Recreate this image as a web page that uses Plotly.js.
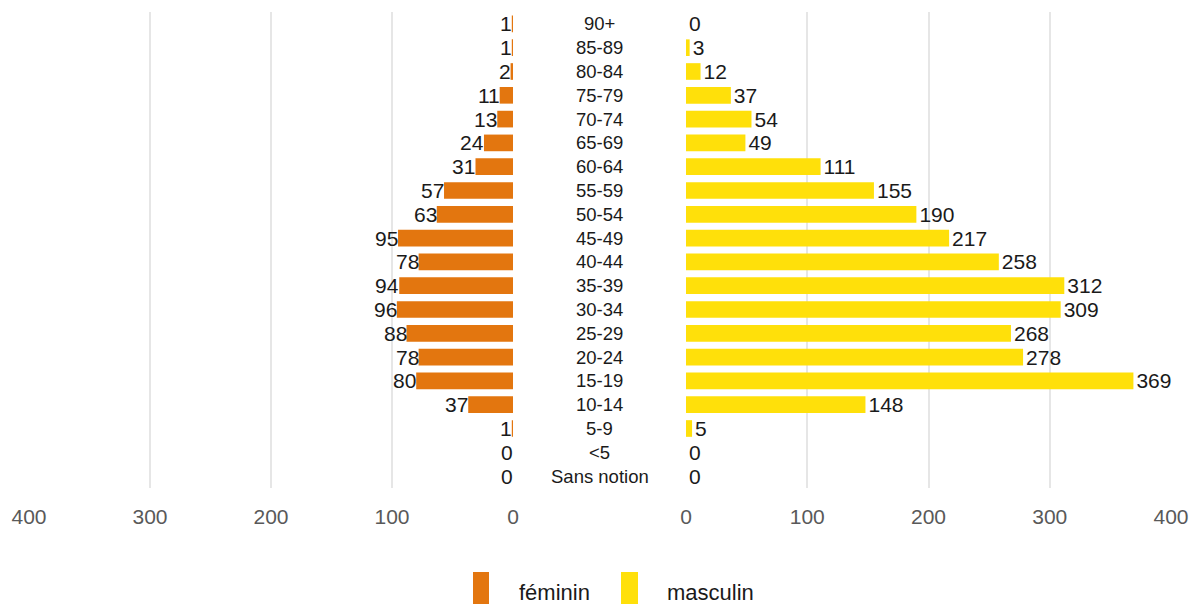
<!DOCTYPE html>
<html>
<head>
<meta charset="utf-8">
<script src="https://cdn.plot.ly/plotly-3.0.1.min.js"></script>
<style>html,body{margin:0;padding:0;background:#fff;}#chart{width:1197px;height:604px;}</style>
</head>
<body>
<div id="chart"></div>
<script>
const categories = ["90+","85-89","80-84","75-79","70-74","65-69","60-64","55-59","50-54","45-49","40-44","35-39","30-34","25-29","20-24","15-19","10-14","5-9","<5","Sans notion"];
const feminin = [1,1,2,11,13,24,31,57,63,95,78,94,96,88,78,80,37,1,0,0];
const masculin = [0,3,12,37,54,49,111,155,190,217,258,312,309,268,278,369,148,5,0,0];
const tickVals = [0,100,200,300,400];
const seriesNames = ["féminin","masculin"];
const colors = ["#E3760F","#FFE00A"];

const W = 1197, H = 604;
const ml = 29, mr = 26, mt = 12, mb = 116;
const pw = W - ml - mr, ph = H - mt - mb;
const px = p => (p - ml) / pw;
const py = p => (H - mb - p) / ph;

const FONT = "Liberation Sans, Arial, sans-serif";
const textFont = {family: FONT, size: 21, color: "#1a1a1a"};

const traces = [
  {type: "bar", orientation: "h", name: seriesNames[0], y: categories, x: feminin,
   xaxis: "x", yaxis: "y", marker: {color: colors[0]},
   hoverinfo: "x+y", showlegend: false},
  {type: "bar", orientation: "h", name: seriesNames[1], y: categories, x: masculin,
   xaxis: "x2", yaxis: "y", marker: {color: colors[1]},
   text: masculin.map(String), textposition: "outside", cliponaxis: false,
   constraintext: "none", outsidetextfont: textFont, hoverinfo: "x+y", showlegend: false}
];

const axisCommon = {
  tickvals: tickVals, ticktext: tickVals.map(String),
  showgrid: true, gridcolor: "#e6e6e6", gridwidth: 2,
  zeroline: false, showline: false,
  ticks: "outside", ticklen: 10, tickcolor: "rgba(0,0,0,0)",
  tickfont: {family: FONT, size: 21, color: "#595959"},
  fixedrange: true
};

const annotations = categories.map(c => ({
  xref: "paper", yref: "y", x: px(599.5), y: c, text: c, showarrow: false,
  xanchor: "center", yanchor: "middle",
  font: {family: FONT, size: 18.5, color: "#1a1a1a"}
}));

// value labels for the left (féminin) bars
feminin.forEach((v, i) => annotations.push({
  xref: "x", yref: "y", x: v, y: categories[i], text: String(v), showarrow: false,
  xanchor: "right", yanchor: "middle", borderpad: 0, xshift: 1,
  font: textFont
}));

// custom legend
const legendItems = [
  {x0: 473, x1: 489, tx: 517},
  {x0: 621, x1: 638, tx: 665}
];
const shapes = legendItems.map((l, i) => ({
  type: "rect", xref: "paper", yref: "paper",
  x0: px(l.x0), x1: px(l.x1), y0: py(572), y1: py(612),
  fillcolor: colors[i], line: {width: 0}
}));
legendItems.forEach((l, i) => annotations.push({
  xref: "paper", yref: "paper", x: px(l.tx), y: py(592), text: seriesNames[i],
  showarrow: false, xanchor: "left", yanchor: "middle",
  font: {family: FONT, size: 22, color: "#1a1a1a"}
}));

const layout = {
  width: W, height: H,
  margin: {l: ml, r: mr, t: mt, b: mb, pad: 0},
  paper_bgcolor: "#fff", plot_bgcolor: "#fff",
  bargap: 0.3,
  showlegend: false,
  xaxis: Object.assign({}, axisCommon, {domain: [0, px(513)], range: [400, 0]}),
  xaxis2: Object.assign({}, axisCommon, {domain: [px(686), 1], range: [0, 400], anchor: "y"}),
  yaxis: {type: "category", categoryorder: "array", categoryarray: categories,
          range: [categories.length - 0.5, -0.5], showticklabels: false, showgrid: false,
          zeroline: false, showline: false, ticks: "", fixedrange: true},
  annotations: annotations,
  shapes: shapes
};

Plotly.newPlot("chart", traces, layout, {displayModeBar: false, staticPlot: true});
</script>
</body>
</html>
